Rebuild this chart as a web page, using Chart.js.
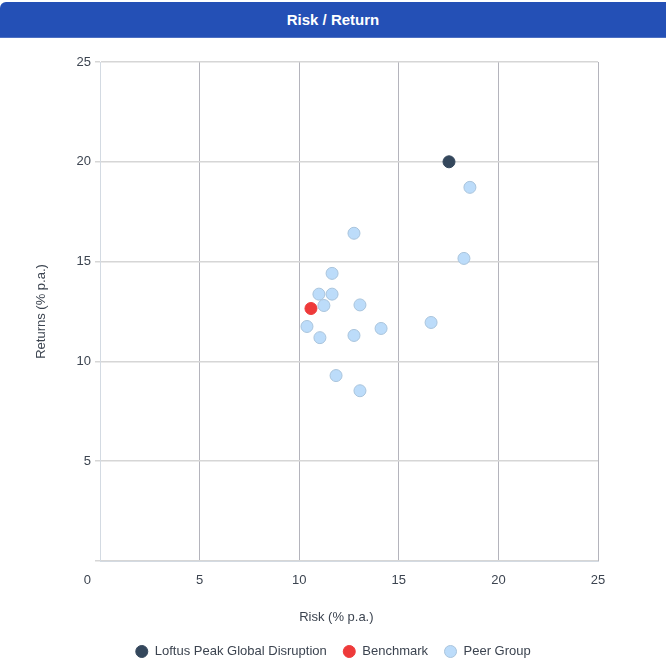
<!DOCTYPE html>
<html>
<head>
<meta charset="utf-8">
<script src="https://cdn.jsdelivr.net/npm/chart.js@4.4.0/dist/chart.umd.min.js"></script>
<style>
    html, body { margin: 0; background: #fff; overflow: hidden; font-family: "Liberation Sans", Arial, sans-serif; }
    .header {
        width: 666px; height: 36px; line-height: 36px; margin-top: 2px;
        background: #2450b6; color: #fff;
        font-weight: bold; font-size: 15px; text-align: center;
        border-top-left-radius: 6px;
        border-bottom: 1px solid #4d70c2;
        box-sizing: border-box;
    }
    .wrap { width: 666px; height: 630px; position: relative; }
</style>
</head>
<body>
<div class="header">Risk / Return</div>
<div class="wrap"><canvas id="riskChart"></canvas></div>
<script>
// Series labels
const seriesNames = ['Loftus Peak Global Disruption', 'Benchmark', 'Peer Group'];

// Fund and benchmark (risk, return)
const fundRisk = [17.52];
const fundReturn = [20.0];
const benchRisk = [10.59];
const benchReturn = [12.65];

// Peer group (risk, return)
const peerRisk = [12.75, 18.57, 18.27, 11.65, 10.99, 11.65, 11.24, 13.05, 10.39, 11.04, 12.75, 14.11, 16.62, 11.85, 13.05];
const peerReturn = [16.42, 18.72, 15.16, 14.41, 13.37, 13.37, 12.80, 12.83, 11.75, 11.19, 11.30, 11.65, 11.95, 9.29, 8.53];

// Axis ticks
const axisTicks = [0, 5, 10, 15, 20, 25];

function toPoints(xs, ys) {
    return xs.map((x, i) => ({ x: x, y: ys[i] }));
}

const ctx = document.getElementById('riskChart').getContext('2d');

const data = {
    datasets: [
        {
            label: seriesNames[0],
            data: toPoints(fundRisk, fundReturn),
            backgroundColor: '#34475c',
            borderColor: '#34475c',
            borderWidth: 1,
            pointRadius: 6,
            pointHoverRadius: 6
        },
        {
            label: seriesNames[1],
            data: toPoints(benchRisk, benchReturn),
            backgroundColor: '#ee3a3a',
            borderColor: '#ee3a3a',
            borderWidth: 1,
            pointRadius: 6,
            pointHoverRadius: 6
        },
        {
            label: seriesNames[2],
            data: toPoints(peerRisk, peerReturn),
            backgroundColor: '#bcdcfa',
            borderColor: '#a9c4dc',
            borderWidth: 1,
            pointRadius: 6,
            pointHoverRadius: 6
        }
    ]
};

const tickFont = { family: '"Liberation Sans", Arial, sans-serif', size: 13 };

const config = {
    type: 'scatter',
    data: data,
    options: {
        responsive: true,
        maintainAspectRatio: false,
        animation: false,
        layout: { padding: { left: 0, right: 0, top: 24, bottom: 0 } },
        plugins: {
            legend: {
                position: 'bottom',
                labels: {
                    usePointStyle: true,
                    pointStyle: 'circle',
                    boxWidth: 13,
                    boxHeight: 8.5,
                    padding: 16,
                    color: '#3c4450',
                    font: tickFont
                }
            },
            tooltip: { enabled: false }
        },
        scales: {
            x: {
                type: 'linear',
                min: 0,
                max: 25,
                afterBuildTicks: scale => { scale.ticks = axisTicks.map(v => ({ value: v })); },
                afterFit: scale => { scale.height = 68; },
                ticks: {
                    color: '#3c4450',
                    font: tickFont,
                    padding: 12,
                    // the zero label sits left of the corner, as in the original
                    callback: v => (v === 0 ? '0       ' : v)
                },
                grid: { color: '#b4b4bc', lineWidth: 1, drawTicks: false },
                border: { color: '#d3dae2', width: 1 },
                title: {
                    display: true,
                    // trailing spaces centre the title on the page, not the plot
                    text: 'Risk (% p.a.)       ',
                    color: '#3c4450',
                    font: tickFont
                }
            },
            y: {
                type: 'linear',
                min: 0,
                max: 25,
                afterBuildTicks: scale => { scale.ticks = axisTicks.map(v => ({ value: v })); },
                afterFit: scale => { scale.width = 100; },
                ticks: {
                    color: '#3c4450',
                    font: tickFont,
                    padding: 4,
                    callback: v => (v === 0 ? '' : v)
                },
                grid: { color: '#d6d6d6', lineWidth: 1.5, tickLength: 5 },
                border: { color: '#d3dae2', width: 1 },
                title: {
                    display: true,
                    text: 'Returns (% p.a.)',
                    color: '#3c4450',
                    font: tickFont,
                    padding: { top: 34, bottom: 0 }
                }
            },
            // empty right axis, only keeps the plot clear of the right edge
            yRight: {
                type: 'linear',
                position: 'right',
                display: true,
                afterFit: scale => { scale.width = 68; },
                ticks: { display: false },
                grid: { display: false, drawOnChartArea: false },
                border: { display: false }
            }
        }
    }
};

new Chart(ctx, config);
</script>
</body>
</html>
